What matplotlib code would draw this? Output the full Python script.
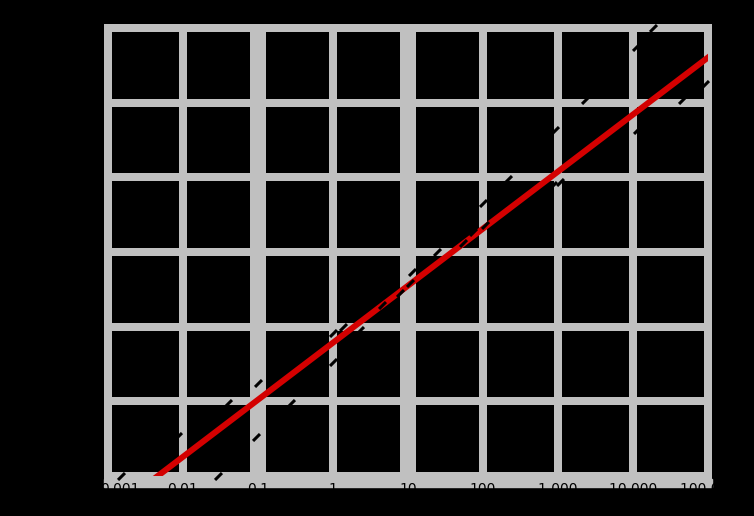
import numpy as np
import matplotlib
matplotlib.use("Agg")
import matplotlib.pyplot as plt
import matplotlib.transforms as mtransforms
from matplotlib.patches import Rectangle

# body mass (kg) and brain mass (g)
body_mass = [0.0015, 0.029, 0.0086, 0.094, 0.10, 0.040, 0.275, 1.0, 1.0, 2.3,
             1.36, 4.5, 7.8, 10.6, 11.3, 24, 54, 45, 74, 106,
             100, 215, 465, 860, 1060, 910, 2300, 11300, 11000, 18500,
             45000, 91000]
brain_mass = [0.10, 0.10, 0.34, 0.33, 1.75, 0.95, 0.95, 8.2, 3.4, 9.0,
              9.9, 19.5, 28, 38, 54, 100, 130, 145, 185, 230,
              450, 950, 500, 790, 860, 4300, 11000, 4300, 56000, 100000,
              11000, 18000]

# fitted power law  brain = k * body ** b
fit_k = 6.1
fit_b = 0.764

x_ticks = [0.001, 0.01, 0.1, 1, 10, 100, 1000, 10000, 100000]
x_labels = ['0.001', '0.01', '0.1', '1', '10', '100', '1 000', '10 000', '100 000']
y_ticks = [0.1, 1, 10, 100, 1000, 10000, 100000]
y_labels = ['0.1', '1', '10', '100', '1 000', '10 000', '100 000']

grey = '#c0c0c0'
px = 72.0 / 100  # one pixel in points at dpi 100

fig = plt.figure(figsize=(7.54, 5.16), dpi=100, facecolor='black')
ax = fig.add_axes([108 / 754, 1 - 476 / 516, 600 / 754, 448 / 516])
ax.set_facecolor('black')
ax.set_xscale('log')
ax.set_yscale('log')
ax.set_xlim(x_ticks[0], x_ticks[-1])
ax.set_ylim(y_ticks[0], y_ticks[-1])
for s in ax.spines.values():
    s.set_visible(False)

# grid lines (the 0.1 and 10 columns are drawn twice as wide)
for xv in x_ticks:
    w = 16 if xv in (0.1, 10) else 8
    ax.axvline(xv, color=grey, lw=w * px, solid_capstyle='butt',
               clip_on=False, zorder=1)
for yv in y_ticks:
    ax.axhline(yv, color=grey, lw=8 * px, solid_capstyle='projecting',
               clip_on=False, zorder=1)

# grey strip under the bottom edge where the tick labels sit
fig.patches.append(Rectangle((104 / 754, 1 - 487 / 516), 608 / 754, 8 / 516,
                             transform=fig.transFigure, color=grey, zorder=-1))

xs = np.array([x_ticks[0], x_ticks[-1]])
ax.plot(xs, fit_k * xs ** fit_b, color='#d40000', lw=6 * px, zorder=3)

ax.plot(body_mass, brain_mass, ls='none', marker=[(-1, -1), (1, 1)],
        ms=5, mew=2.2, color='black', zorder=4, clip_on=False)

ax.set_xticks(x_ticks)
ax.set_xticklabels(x_labels)
ax.set_yticks(y_ticks)
ax.set_yticklabels(y_labels)
ax.minorticks_off()
ax.tick_params(length=0, labelsize=10, labelcolor='black')
ax.tick_params(axis='x', pad=4.5)
ax.tick_params(axis='y', pad=8)
# first x label sits a little to the right of its grid line
first = ax.get_xticklabels()[0]
first.set_transform(first.get_transform() +
                    mtransforms.ScaledTranslation(12 / 100, 0, fig.dpi_scale_trans))
ax.set_xlabel('Body mass (kg)', color='black', fontsize=11)
ax.set_ylabel('Brain mass (g)', color='black', fontsize=11)

fig.savefig('out.png', dpi=100, facecolor='black')
